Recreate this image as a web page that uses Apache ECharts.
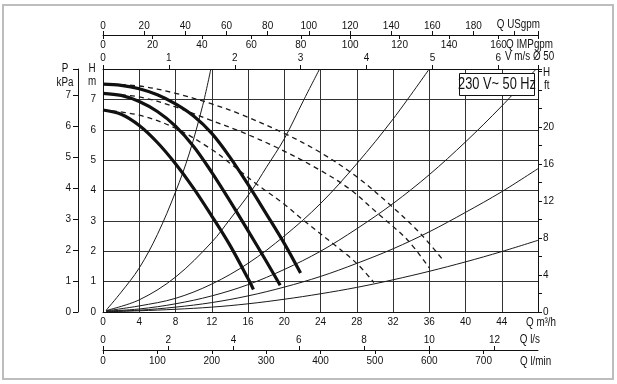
<!DOCTYPE html>
<html><head><meta charset="utf-8">
<script src="https://cdn.jsdelivr.net/npm/echarts@6/dist/echarts.min.js"></script>
<style>html,body{margin:0;padding:0;background:#fff}#c{width:617px;height:384px}</style>
</head><body><div id="c"></div>
<script>
// ---------- data (Q in m3/h, H in m) ----------
const qTicks = [0,4,8,12,16,20,24,28,32,36,40,44];
const lsTicks = [0,2,4,6,8,10,12];
const lminTicks = [0,100,200,300,400,500,600,700];
const usgpmTicks = [0,20,40,60,80,100,120,140,160,180];
const impTicks = [0,20,40,60,80,100,120,140,160];
const velTicks = [0,1,2,3,4,5,6];
const hTicks = [0,1,2,3,4,5,6,7];
const pTicks = [0,1,2,3,4,5,6,7];
const ftTicks = [0,4,8,12,16,20];

// pump curves (thick solid)
const pumpHigh = [[0,7.5],[2,7.46],[4,7.35],[6,7.15],[8,6.85],[10,6.45],[12,5.88],[14,5.1],[16,4.2],[18,3.24],[20,2.26],[21.8,1.28]];
const pumpMid  = [[0,7.2],[2,7.13],[4,6.93],[6,6.6],[8,6.12],[10,5.45],[12,4.6],[14,3.66],[16,2.68],[18,1.68],[19.55,0.88]];
const pumpLow  = [[0,6.65],[2,6.51],[4,6.14],[6,5.58],[8,4.88],[10,4.07],[12,3.16],[14,2.2],[16,1.1],[16.6,0.74]];
// dashed curves
const dashHigh = [[0,7.5],[4,7.44],[8,7.2],[12,6.85],[15.1,6.52],[20,5.88],[24,5.25],[28,4.45],[31.7,3.52],[35,2.59],[37.6,1.68]];
const dashMid  = [[0,7.2],[4,7.08],[8,6.75],[12,6.3],[15.1,5.95],[19.5,5.37],[24,4.66],[27.2,4.05],[30.3,3.25],[33.6,2.37],[36,1.45]];
const dashLow  = [[0,6.65],[4,6.48],[8,6.05],[12,5.35],[14,4.9],[17,4.2],[20,3.55],[22,3.05],[25.5,2.22],[28,1.6],[29.9,0.97]];
// system curves (thin)
const sys1 = [[0.35,0.06],[2,0.65],[4,1.45],[6,2.55],[8,3.95],[9.5,5.2],[11,6.8],[11.9,8]];
const sys2 = [[0.35,0.05],[4,0.4],[8,1.15],[12,2.3],[14,3.05],[16.4,4.0],[18,4.75],[20,5.7],[22.1,6.95],[23.9,8]];
const sys3 = [[0.35,0.04],[4,0.2],[8,0.45],[12,0.92],[16,1.6],[20,2.5],[24,3.57],[28,4.88],[32,6.35],[36,8]];
const sys4 = [[0.35,0.03],[4,0.1],[8,0.27],[12,0.53],[16,0.9],[20,1.4],[24,2.0],[28,2.74],[32,3.57],[36,4.52],[40,5.6],[44,6.78],[47.8,8]];
const sys5 = [[0.35,0.02],[4,0.06],[8,0.16],[12,0.31],[16,0.53],[20,0.82],[24,1.17],[28,1.6],[32,2.08],[36,2.64],[40,3.28],[44,3.96],[48,4.72]];
const sys6 = [[0.35,0.01],[4,0.04],[8,0.09],[12,0.16],[16,0.27],[20,0.42],[24,0.6],[28,0.81],[32,1.06],[36,1.34],[40,1.65],[44,1.99],[48,2.36]];

// ---------- chart ----------
const FONT = '"Liberation Sans",Arial,sans-serif';
const INK = '#111';
const QMAX = 48, HMAX = 8;
const lab = (arr, extra) => Object.assign({
  fontFamily: FONT, fontSize: 10, color: INK,
  formatter: v => arr.some(t => Math.abs(t - v) < 1e-6) ? String(v) : ''
}, extra || {});

const chart = echarts.init(document.getElementById('c'), null, {renderer: 'canvas'});

const thin = d => ({type:'line', data:d, showSymbol:false, smooth:0.35, silent:true, z:3,
  lineStyle:{color:'#1a1a1a', width:1}});
const dash = d => ({type:'line', data:d, showSymbol:false, smooth:0.35, silent:true, z:4,
  lineStyle:{color:'#1a1a1a', width:1.3, type:[5,4]}});
const thick = d => ({type:'line', data:d, showSymbol:false, smooth:0.35, silent:true, z:5,
  lineStyle:{color:'#111', width:3.2, cap:'butt'}});

const txt = (x, y, t, align, size, sx) => ({type:'text', z:61, x:x, y:y, scaleX: sx || 0.82,
  style:{text:t, font:(size||12)+'px '+FONT, fill:INK, align:align||'center', verticalAlign:'middle'}});

chart.setOption({
  animation: false,
  backgroundColor: '#fff',
  grid: {left: 103, right: 79, top: 69, bottom: 72, containLabel: false},
  xAxis: [
    {type:'value', position:'bottom', min:0, max:QMAX, interval:4,
     axisLine:{show:true, lineStyle:{color:INK, width:1}}, axisTick:{show:false},
     axisLabel: lab(qTicks, {margin:5}),
     splitLine:{show:true, lineStyle:{color:'#333', width:1}}},
    {type:'value', position:'bottom', offset:38, min:0, max:QMAX/3.6, interval:2,
     axisLine:{show:true, onZero:false, lineStyle:{color:INK, width:1}},
     axisTick:{show:true, inside:true, length:4, lineStyle:{color:INK}},
     axisLabel: lab(lsTicks, {inside:true, margin:5, showMaxLabel:false}), splitLine:{show:false}},
    {type:'value', position:'bottom', offset:38, min:0, max:QMAX/0.06, interval:100,
     axisLine:{show:false, onZero:false},
     axisTick:{show:true, length:4, lineStyle:{color:INK}},
     axisLabel: lab(lminTicks, {margin:6, showMaxLabel:false}), splitLine:{show:false}},
    {type:'value', position:'top', offset:34, min:0, max:QMAX*4.40287, interval:20,
     axisLine:{show:true, onZero:false, lineStyle:{color:INK, width:1}},
     axisTick:{show:true, length:4, lineStyle:{color:INK}},
     axisLabel: lab(usgpmTicks, {margin:4}), splitLine:{show:false}},
    {type:'value', position:'top', offset:34, min:0, max:QMAX*3.66615, interval:20,
     axisLine:{show:false, onZero:false},
     axisTick:{show:true, inside:true, length:4, lineStyle:{color:INK}},
     axisLabel: lab(impTicks, {inside:true, margin:5}), splitLine:{show:false}},
    {type:'value', position:'top', offset:0, min:0, max:QMAX/7.27, interval:1,
     axisLine:{show:true, onZero:false, lineStyle:{color:INK, width:1}},
     axisTick:{show:true, length:4, lineStyle:{color:INK}},
     axisLabel: lab(velTicks, {margin:6}), splitLine:{show:false}}
  ],
  yAxis: [
    {type:'value', position:'left', min:0, max:HMAX, interval:1,
     axisLine:{show:true, onZero:false, lineStyle:{color:INK, width:1}}, axisTick:{show:false},
     axisLabel: lab(hTicks, {margin:7}),
     splitLine:{show:true, lineStyle:{color:'#333', width:1}}},
    {type:'value', position:'left', offset:25, min:0, max:HMAX*0.980665, interval:1,
     axisLine:{show:true, onZero:false, lineStyle:{color:INK, width:1}},
     axisTick:{show:true, length:5, lineStyle:{color:INK}},
     axisLabel: lab(pTicks, {margin:7}), splitLine:{show:false}},
    {type:'value', position:'right', min:0, max:HMAX*3.28084, interval:2,
     axisLine:{show:true, onZero:false, lineStyle:{color:INK, width:1}},
     axisTick:{show:true, length:4, lineStyle:{color:INK}},
     axisLabel: lab(ftTicks, {margin:5}), splitLine:{show:false}}
  ],
  series: [
    thin(sys1), thin(sys2), thin(sys3), thin(sys4), thin(sys5), thin(sys6),
    dash(dashHigh), dash(dashMid), dash(dashLow),
    thick(pumpHigh), thick(pumpMid), thick(pumpLow)
  ],
  graphic: [
    {type:'rect', z:0, silent:true, shape:{x:3, y:5, width:610, height:374},
     style:{fill:'none', stroke:'#bdbdbd', lineWidth:2}},
    txt(65, 69, 'P'), txt(65, 83, 'kPa'),
    txt(92, 69, 'H'), txt(92, 82, 'm'),
    txt(543, 73, 'H', 'left'), txt(544, 86, 'ft', 'left'),
    txt(540, 25, 'Q USgpm', 'right'),
    txt(506, 45, 'Q IMPgpm', 'left'),
    txt(505, 57, 'V m/s Ø 50', 'left'),
    txt(526, 323, 'Q m³/h', 'left'),
    txt(540, 340, 'Q l/s', 'right'),
    txt(520, 362, 'Q l/min', 'left'),
    {type:'rect', z:60, silent:true, shape:{x:459.5, y:73.5, width:75, height:22},
     style:{fill:'#fff', stroke:INK, lineWidth:1}},
    txt(497, 84.5, '230 V~ 50 Hz', 'center', 16, 0.8)
  ]
});
</script></body></html>
